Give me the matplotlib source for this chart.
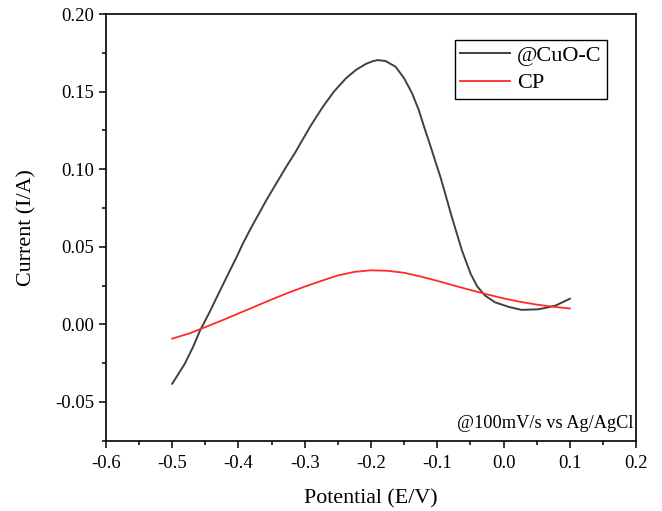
import matplotlib
matplotlib.use("Agg")
import matplotlib.pyplot as plt
from matplotlib.ticker import MultipleLocator

plt.rcParams['font.family'] = ['Liberation Serif', 'DejaVu Serif']

# @CuO-C sweep
cuo_x = [-0.500, -0.481, -0.469, -0.458, -0.444, -0.431, -0.416, -0.401, -0.394,
         -0.381, -0.368, -0.358, -0.343, -0.328, -0.314, -0.306, -0.291, -0.273,
         -0.256, -0.238, -0.223, -0.208, -0.198, -0.190, -0.178, -0.163, -0.150,
         -0.138, -0.128, -0.120, -0.110, -0.103, -0.095, -0.088, -0.078, -0.063,
         -0.050, -0.040, -0.028, -0.013, 0.008, 0.027, 0.053, 0.078, 0.100]
cuo_y = [-0.0383, -0.0254, -0.0150, -0.0040, 0.0075, 0.0190, 0.0320, 0.0450, 0.0515,
         0.0622, 0.0722, 0.0800, 0.0908, 0.1015, 0.1110, 0.1170, 0.1280, 0.1400,
         0.1500, 0.1585, 0.1639, 0.1678, 0.1695, 0.1703, 0.1697, 0.1660, 0.1585,
         0.1488, 0.1381, 0.1273, 0.1144, 0.1050, 0.0945, 0.0840, 0.0690, 0.0478,
         0.0328, 0.0245, 0.0185, 0.0142, 0.0112, 0.0093, 0.0097, 0.0120, 0.0165]

# CP sweep
cp_x = [-0.500, -0.475, -0.450, -0.425, -0.400, -0.375, -0.350, -0.325, -0.300, -0.275,
        -0.250, -0.225, -0.200, -0.175, -0.150, -0.125, -0.100, -0.075, -0.050, -0.025,
        0.000, 0.025, 0.050, 0.075, 0.100]
cp_y = [-0.0092, -0.0060, -0.0018, 0.0025, 0.0070, 0.0115, 0.0160, 0.0203, 0.0243, 0.0280,
        0.0315, 0.0338, 0.0348, 0.0345, 0.0332, 0.0308, 0.0280, 0.0250, 0.0221, 0.0193,
        0.0167, 0.0145, 0.0127, 0.0113, 0.0102]

fig = plt.figure(figsize=(6.62, 5.11), dpi=100)
ax = fig.add_axes([0.160, 0.1376, 0.801, 0.835])

ax.plot(cuo_x, cuo_y, color='#404040', lw=1.4, label='@CuO-C')
ax.plot(cp_x, cp_y, color='#ff2a2a', lw=1.3, label='CP')

ax.set_xlim(-0.6, 0.2)
ax.set_ylim(-0.075, 0.20)
ax.xaxis.set_major_locator(MultipleLocator(0.1))
ax.xaxis.set_minor_locator(MultipleLocator(0.05))
ax.yaxis.set_major_locator(MultipleLocator(0.05))
ax.yaxis.set_minor_locator(MultipleLocator(0.025))
ax.xaxis.set_major_formatter(lambda v, p: f"{v:.1f}".replace("-0.0", "0.0"))
ax.yaxis.set_major_formatter(lambda v, p: f"{v:.2f}".replace("-0.00", "0.00"))

ax.tick_params(which='both', direction='out', top=False, right=False, width=1.1, labelsize=13.5)
ax.tick_params(which='major', length=5)
ax.tick_params(which='minor', length=3)
ax.tick_params(axis='x', pad=5.5)
for s in ax.spines.values():
    s.set_linewidth(1.2)

ax.set_xlabel('Potential (E/V)', fontsize=15.8, labelpad=12)
ax.set_ylabel('Current (I/A)', fontsize=15.8, labelpad=13)

leg = ax.legend(loc='upper right', bbox_to_anchor=(0.945, 0.939), borderaxespad=0,
                fontsize=16, handlelength=2.25, fancybox=False, framealpha=1,
                edgecolor='black', borderpad=0.25, labelspacing=0.3, handletextpad=0.3)
leg.get_frame().set_linewidth(1.0)

ax.text(0.995, 0.02, '@100mV/s vs Ag/AgCl', transform=ax.transAxes, ha='right', va='bottom',
        fontsize=13.2)

fig.savefig('out.png', dpi=100)
